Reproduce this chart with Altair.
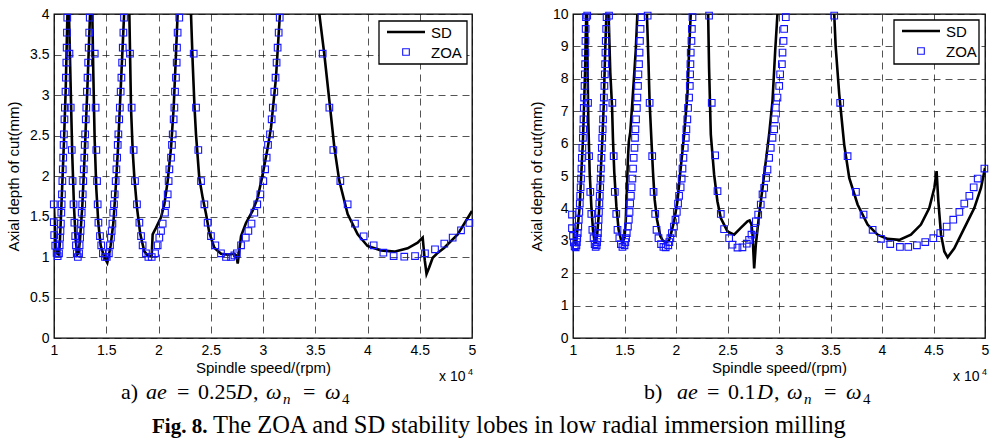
import altair as alt
import pandas as pd

# ---------------- shared axis values ----------------
X_TICKS = [1, 1.5, 2, 2.5, 3, 3.5, 4, 4.5, 5]          # x 10^4 rpm
A_Y_TICKS = [0, 0.5, 1, 1.5, 2, 2.5, 3, 3.5, 4]
B_Y_TICKS = [0, 1, 2, 3, 4, 5, 6, 7, 8, 9, 10]

# ---------------- panel a) ae = 0.25D : SD lobes (x in 10^4 rpm, y in mm) ----------------
A_SD = [
    [(1.000, 1.62), (1.010, 1.30), (1.020, 1.12), (1.032, 1.04), (1.045, 1.03), (1.055, 1.15),
     (1.064, 1.42), (1.080, 1.92), (1.096, 2.45), (1.112, 3.07), (1.128, 3.97), (1.131, 4.25)],
    [(1.141, 4.25), (1.144, 3.97), (1.160, 3.07), (1.175, 2.25), (1.191, 1.63), (1.207, 1.22),
     (1.223, 1.03), (1.236, 1.05), (1.249, 1.22), (1.271, 1.63), (1.293, 2.25), (1.319, 3.07),
     (1.344, 3.97), (1.350, 4.25)],
    [(1.362, 4.25), (1.367, 3.97), (1.376, 3.28), (1.389, 2.45), (1.405, 1.84), (1.424, 1.42),
     (1.447, 1.14), (1.478, 1.01), (1.510, 0.93), (1.522, 1.00), (1.542, 1.14), (1.568, 1.42),
     (1.590, 1.84), (1.612, 2.33), (1.638, 3.07), (1.670, 3.97), (1.677, 4.25)],
    [(1.716, 4.25), (1.721, 4.00), (1.737, 2.84), (1.753, 2.31), (1.769, 1.98), (1.794, 1.61),
     (1.826, 1.28), (1.864, 1.07), (1.903, 1.01), (1.935, 1.01), (1.944, 1.28), (1.976, 1.36),
     (2.024, 1.49), (2.056, 1.65), (2.088, 1.94), (2.120, 2.35), (2.145, 2.84), (2.167, 3.50),
     (2.183, 4.00), (2.188, 4.25)],
    [(2.306, 4.25), (2.311, 4.00), (2.327, 3.40), (2.345, 2.84), (2.359, 2.51), (2.390, 1.98),
     (2.423, 1.73), (2.455, 1.53), (2.486, 1.30), (2.534, 1.115), (2.598, 1.04), (2.662, 1.03),
     (2.725, 1.04), (2.745, 1.02), (2.758, 0.92), (2.775, 1.10), (2.790, 1.26), (2.837, 1.42),
     (2.900, 1.57), (2.949, 1.73), (2.997, 2.02), (3.045, 2.35), (3.077, 2.60), (3.124, 3.21),
     (3.162, 4.00), (3.168, 4.25)],
    [(3.533, 4.25), (3.539, 4.00), (3.587, 3.50), (3.635, 2.93), (3.683, 2.35), (3.730, 1.94),
     (3.810, 1.53), (3.906, 1.28), (4.000, 1.136), (4.129, 1.082), (4.257, 1.066), (4.384, 1.107),
     (4.480, 1.177), (4.528, 1.24), (4.548, 0.96), (4.565, 0.79), (4.590, 0.87), (4.624, 0.99),
     (4.671, 1.05), (4.735, 1.115), (4.863, 1.28), (5.000, 1.568)],
]

# panel a) ZOA markers: depth levels of the falling / rising sides of a lobe
A_FALL_Y = [3.51, 2.844, 2.321, 1.938, 1.65, 1.424, 1.259, 1.144, 1.045, 1.0]
A_RISE_Y = [1.045, 1.144, 1.239, 1.321, 1.412, 1.547, 1.65, 1.774, 1.938, 2.082, 2.226,
            2.383, 2.514, 2.7, 2.844, 3.041, 3.214, 3.4, 3.584, 3.77, 3.955]
A_FALL_X = [
    [1.148, 1.160, 1.170, 1.178, 1.187, 1.195, 1.203, 1.210, 1.218, 1.228],
    [1.390, 1.398, 1.405, 1.412, 1.418, 1.425, 1.440, 1.452, 1.468, 1.488],
    [1.727, 1.743, 1.762, 1.775, 1.794, 1.817, 1.833, 1.848, 1.880, 1.903],
    [2.337, 2.359, 2.381, 2.407, 2.439, 2.470, 2.502, 2.544, 2.598, 2.646],
]
A_RISE_X = [
    [1.048, 1.054, 1.058, 1.062, 1.066, 1.070, 1.073, 1.076, 1.080, 1.084, 1.088,
     1.092, 1.095, 1.100, 1.104, 1.110, 1.114, 1.118, 1.121, 1.124, 1.127],
    [1.240, 1.245, 1.250, 1.254, 1.259, 1.265, 1.270, 1.275, 1.280, 1.285, 1.290,
     1.294, 1.298, 1.304, 1.309, 1.315, 1.321, 1.327, 1.332, 1.337, 1.342],
    [1.525, 1.536, 1.545, 1.552, 1.559, 1.567, 1.574, 1.581, 1.590, 1.597, 1.604,
     1.610, 1.616, 1.624, 1.630, 1.638, 1.645, 1.652, 1.658, 1.664, 1.670],
    [1.967, 1.992, 2.008, 2.024, 2.040, 2.062, 2.072, 2.088, 2.097, 2.104, 2.120,
     2.129, 2.136, 2.145, 2.152, 2.158, 2.167, 2.174, 2.177, 2.183, 2.199],
    [2.750, 2.790, 2.835, 2.860, 2.890, 2.917, 2.945, 2.975, 3.003, 3.020, 3.035,
     3.048, 3.067, 3.083, 3.094, 3.108, 3.120, 3.130, 3.140, 3.150, 3.160],
]
A_ZOA_OTHER = [
    (0.998, 1.65), (0.998, 1.43), (1.002, 1.27), (1.012, 1.14), (1.025, 1.05), (1.035, 1.01),
    (1.505, 1.0), (1.935, 1.0), (2.694, 1.0), (2.726, 1.02),
    (3.571, 3.51), (3.635, 2.844), (3.673, 2.321), (3.740, 1.938), (3.810, 1.65), (3.880, 1.412),
    (3.963, 1.255), (4.059, 1.144), (4.152, 1.053), (4.250, 1.012), (4.352, 1.004), (4.455, 1.012),
    (4.550, 1.045), (4.646, 1.095), (4.735, 1.165), (4.815, 1.239), (4.895, 1.330), (4.975, 1.420),
]

# ---------------- panel b) ae = 0.1D ----------------
B_SD = [
    [(1.000, 3.40), (1.012, 3.00), (1.025, 2.92), (1.032, 3.03), (1.048, 3.50), (1.065, 4.07),
     (1.081, 5.10), (1.097, 6.13), (1.107, 7.16), (1.117, 8.19), (1.123, 9.23), (1.129, 9.95),
     (1.131, 10.4)],
    [(1.134, 10.4), (1.136, 9.95), (1.142, 8.19), (1.149, 6.65), (1.162, 5.10), (1.178, 4.07),
     (1.194, 3.34), (1.210, 2.95), (1.220, 2.95), (1.233, 3.14), (1.252, 3.86), (1.269, 5.10),
     (1.285, 6.13), (1.298, 7.16), (1.311, 8.71), (1.324, 9.95), (1.327, 10.4)],
    [(1.343, 10.4), (1.346, 9.95), (1.362, 8.19), (1.379, 7.16), (1.388, 6.13), (1.401, 5.10),
     (1.421, 4.07), (1.443, 3.34), (1.465, 3.05), (1.482, 2.95), (1.500, 3.10), (1.512, 3.60),
     (1.522, 4.50), (1.533, 5.50), (1.542, 6.05), (1.556, 6.35), (1.577, 7.32), (1.609, 8.86),
     (1.625, 10.0), (1.627, 10.4)],
    [(1.716, 10.4), (1.718, 9.95), (1.731, 8.71), (1.744, 7.27), (1.761, 6.13), (1.777, 5.10),
     (1.793, 4.27), (1.816, 3.65), (1.848, 3.14), (1.874, 3.00), (1.905, 2.96), (1.930, 3.00),
     (1.949, 3.19), (1.981, 3.60), (2.014, 4.22), (2.046, 5.25), (2.079, 6.28), (2.111, 7.52),
     (2.127, 8.86), (2.143, 10.0), (2.145, 10.4)],
    [(2.310, 10.4), (2.312, 10.0), (2.321, 8.35), (2.338, 6.28), (2.370, 5.05), (2.402, 4.22),
     (2.435, 3.70), (2.500, 3.29), (2.564, 3.19), (2.629, 3.40), (2.694, 3.60), (2.715, 3.63),
     (2.733, 3.50), (2.743, 3.19), (2.759, 2.15), (2.775, 2.88), (2.807, 3.80), (2.840, 4.63),
     (2.872, 5.46), (2.904, 6.28), (2.937, 7.32), (2.963, 8.86), (2.985, 10.0), (2.988, 10.4)],
    [(3.535, 10.4), (3.536, 10.0), (3.550, 9.00), (3.585, 7.52), (3.633, 5.97), (3.682, 4.94),
     (3.763, 4.12), (3.860, 3.50), (3.957, 3.19), (4.054, 3.06), (4.168, 3.03), (4.281, 3.19),
     (4.378, 3.50), (4.459, 4.01), (4.508, 4.63), (4.530, 5.15), (4.547, 4.22), (4.573, 3.19),
     (4.605, 2.67), (4.637, 2.49), (4.702, 2.77), (4.799, 3.39), (4.896, 4.01), (4.961, 4.63),
     (5.000, 5.25)],
]

B_FALL_Y = [9.95, 7.26, 5.61, 4.51, 3.83, 3.34, 3.08, 2.90, 2.81]
B_RISE_Y = [2.86, 2.96, 3.08, 3.24, 3.44, 3.65, 3.89, 4.15, 4.39, 4.65, 4.92, 5.23, 5.56,
            5.87, 6.18, 6.44, 6.75, 7.10, 7.42, 7.78, 8.14, 8.45, 8.81, 9.17, 9.54, 9.90]
B_FALL_X = [
    [1.138, 1.146, 1.156, 1.168, 1.178, 1.188, 1.200, 1.210, 1.220],
    [1.350, 1.382, 1.395, 1.406, 1.420, 1.432, 1.450, 1.465, 1.480],
    [1.725, 1.744, 1.769, 1.782, 1.798, 1.811, 1.830, 1.855, 1.878],
]
B_RISE_X = [
    [1.033, 1.037, 1.041, 1.046, 1.051, 1.056, 1.061, 1.066, 1.070, 1.074, 1.078, 1.082, 1.086,
     1.091, 1.096, 1.099, 1.102, 1.105, 1.108, 1.112, 1.115, 1.118, 1.120, 1.121, 1.123, 1.126],
    [1.230, 1.234, 1.238, 1.242, 1.245, 1.249, 1.252, 1.256, 1.260, 1.264, 1.268, 1.271, 1.276,
     1.280, 1.284, 1.288, 1.292, 1.296, 1.300, 1.305, 1.309, 1.312, 1.315, 1.318, 1.322, 1.326],
    [1.500, 1.508, 1.515, 1.522, 1.533, 1.542, 1.549, 1.555, 1.562, 1.569, 1.577, 1.583, 1.589,
     1.597, 1.602, 1.606, 1.612, 1.620, 1.625, 1.631, 1.635, 1.641, 1.646, 1.650, 1.656, 1.662],
    [1.925, 1.935, 1.945, 1.960, 1.980, 1.995, 2.008, 2.020, 2.030, 2.045, 2.055, 2.063, 2.072,
     2.085, 2.095, 2.101, 2.110, 2.117, 2.127, 2.134, 2.137, 2.140, 2.143, 2.150, 2.154, 2.160],
]
B_ZOA_OTHER = [
    (0.990, 3.81), (0.990, 3.39), (1.000, 3.15), (1.008, 2.95), (1.016, 2.83), (1.026, 2.80),
    (1.900, 2.80),
    (2.321, 9.95), (2.347, 7.26), (2.380, 5.64), (2.403, 4.53), (2.435, 3.83), (2.467, 3.36),
    (2.516, 3.08), (2.548, 2.88), (2.597, 2.79), (2.645, 2.80), (2.687, 2.91), (2.710, 3.03),
    (2.733, 3.19), (2.759, 3.34), (2.775, 3.60), (2.798, 3.81), (2.823, 4.12), (2.840, 4.43),
    (2.856, 4.63), (2.875, 4.94), (2.888, 5.20), (2.904, 5.56), (2.920, 5.87), (2.937, 6.18),
    (2.953, 6.44), (2.959, 6.75), (2.969, 7.11), (2.985, 7.42), (3.002, 7.78), (3.011, 8.14),
    (3.028, 8.45), (3.034, 8.81), (3.044, 9.17), (3.050, 9.54), (3.066, 9.90),
    (3.536, 9.95), (3.594, 7.26), (3.666, 5.61), (3.747, 4.51), (3.821, 3.81), (3.909, 3.34),
    (3.990, 3.06), (4.080, 2.90), (4.174, 2.81), (4.255, 2.81), (4.339, 2.86), (4.420, 2.96),
    (4.498, 3.08), (4.566, 3.24), (4.628, 3.44), (4.692, 3.65), (4.751, 3.89), (4.799, 4.15),
    (4.848, 4.39), (4.890, 4.65), (4.929, 4.92), (4.994, 5.23),
]

# ---------------- build tables ----------------
def sd_table(lobes):
    rows = []
    for i, lobe in enumerate(lobes):
        for j, (x, y) in enumerate(lobe):
            rows.append({"x": x, "y": y, "lobe": i, "k": j})
    return pd.DataFrame(rows)


def zoa_table(fall_x, fall_y, rise_x, rise_y, other):
    rows = []
    for xs in fall_x:
        rows += [{"x": x, "y": y} for x, y in zip(xs, fall_y)]
    for xs in rise_x:
        rows += [{"x": x, "y": y} for x, y in zip(xs, rise_y)]
    rows += [{"x": x, "y": y} for x, y in other]
    return pd.DataFrame(rows)


SANS = "Liberation Sans"
SERIF = "Liberation Serif"
ONE = pd.DataFrame({"a": [0]})
H = 324


def txt(s, x, y, size, font=SANS, style="normal", weight="normal", align="left", baseline="alphabetic"):
    return alt.Chart(ONE).mark_text(
        text=s, font=font, fontSize=size, fontStyle=style, fontWeight=weight,
        align=align, baseline=baseline, color="black"
    ).encode(x=alt.value(x), y=alt.value(y))


def panel(sd_df, zoa_df, y_ticks, y_max, W, leg, xten, caption):
    xs = alt.Scale(domain=[1, 5], nice=False, zero=False)
    ys = alt.Scale(domain=[0, y_max], nice=False, zero=False)
    xax = alt.Axis(values=X_TICKS, format="~r", title="Spindle speed/(rpm)",
                   labelPadding=5, titlePadding=3)
    yax = alt.Axis(values=y_ticks, format="~r", title="Axial depth of cut(mm)",
                   labelPadding=5, titlePadding=8)
    xe = alt.X("x:Q", scale=xs, axis=xax)
    ye = alt.Y("y:Q", scale=ys, axis=yax)
    line = alt.Chart(sd_df).mark_line(clip=True, color="black", strokeWidth=2.6).encode(
        x=xe, y=ye, detail="lobe:N", order="k:Q")
    pts = alt.Chart(zoa_df).mark_point(shape="square", filled=False, color="#1414ff",
                                       size=44, strokeWidth=1.1, opacity=1).encode(x=xe, y=ye)
    lx0, ly0, lx1, ly1 = leg
    box = alt.Chart(ONE).mark_rect(fill="white", stroke="black", strokeWidth=1.3).encode(
        x=alt.value(lx0), x2=alt.value(lx1), y=alt.value(ly0), y2=alt.value(ly1))
    lline = alt.Chart(ONE).mark_rule(color="black", strokeWidth=2.6).encode(
        x=alt.value(lx0 + 8), x2=alt.value(lx0 + 46), y=alt.value(ly0 + 11))
    lsq = alt.Chart(ONE).mark_point(shape="square", filled=False, color="#1414ff",
                                    size=44, strokeWidth=1.1, opacity=1).encode(
        x=alt.value(lx0 + 27), y=alt.value(ly0 + 31))
    lt1 = txt("SD", lx0 + 52, ly0 + 12, 15, baseline="middle")
    lt2 = txt("ZOA", lx0 + 52, ly0 + 32, 15, baseline="middle")
    xt1 = txt("x 10", xten, H + 43, 14)
    xt2 = txt("4", xten + 29, H + 37, 9)
    layers = [line, pts, box, lline, lsq, lt1, lt2, xt1, xt2]
    for (s, x, style, size, dy) in caption:
        layers.append(txt(s, x, H + 61 + dy, size, font=SERIF, style=style))
    return alt.layer(*layers).properties(width=W, height=H)


CAP_A = [("a)", 67, "normal", 22, 0), ("ae", 92, "italic", 22, 0), ("=", 123, "normal", 22, 0),
         ("0.25", 144, "normal", 22, 0), ("D", 182, "italic", 22, 0), (",", 199, "normal", 22, 0),
         ("ω", 212, "italic", 22, 0), ("n", 229, "italic", 15, 5), ("=", 249, "normal", 22, 0),
         ("ω", 271, "italic", 22, 0), ("4", 288, "normal", 15, 5)]
CAP_B = [("b)", 71, "normal", 22, 0), ("ae", 104, "italic", 22, 0), ("=", 134, "normal", 22, 0),
         ("0.1", 155, "normal", 22, 0), ("D", 184, "italic", 22, 0), (",", 201, "normal", 22, 0),
         ("ω", 214, "italic", 22, 0), ("n", 231, "italic", 15, 5), ("=", 251, "normal", 22, 0),
         ("ω", 273, "italic", 22, 0), ("4", 290, "normal", 15, 5)]

left = panel(sd_table(A_SD), zoa_table(A_FALL_X, A_FALL_Y, A_RISE_X, A_RISE_Y, A_ZOA_OTHER),
             A_Y_TICKS, 4, 418, (325, 7, 413, 50), 385, CAP_A)
fig1 = txt("Fig. 8.", 98, H + 95, 21, font=SERIF, weight="bold")
fig2 = txt("The ZOA and SD stability lobes in low radial immersion milling", 159, H + 95, 24.5, font=SERIF)
left = alt.layer(left, fig1, fig2)

right = panel(sd_table(B_SD), zoa_table(B_FALL_X, B_FALL_Y, B_RISE_X, B_RISE_Y, B_ZOA_OTHER),
              B_Y_TICKS, 10, 412, (321, 6, 406, 50), 380, CAP_B)

chart = alt.hconcat(left, right, spacing=101, bounds="flush").properties(
    padding={"left": 5, "top": 6, "right": 0, "bottom": 0},
    background="white",
).configure_view(
    stroke="black", strokeWidth=1.3
).configure_axis(
    labelFont=SANS, labelFontSize=14, labelColor="black", labelFlush=False, labelOverlap=False,
    titleFont=SANS, titleFontSize=15, titleFontWeight="normal", titleColor="black",
    grid=True, gridDash=[7, 5], gridColor="#111111", gridOpacity=0.8, gridWidth=0.9,
    ticks=False, domain=False,
)

chart.save("out.html", embed_options={"renderer": "svg", "actions": False})
